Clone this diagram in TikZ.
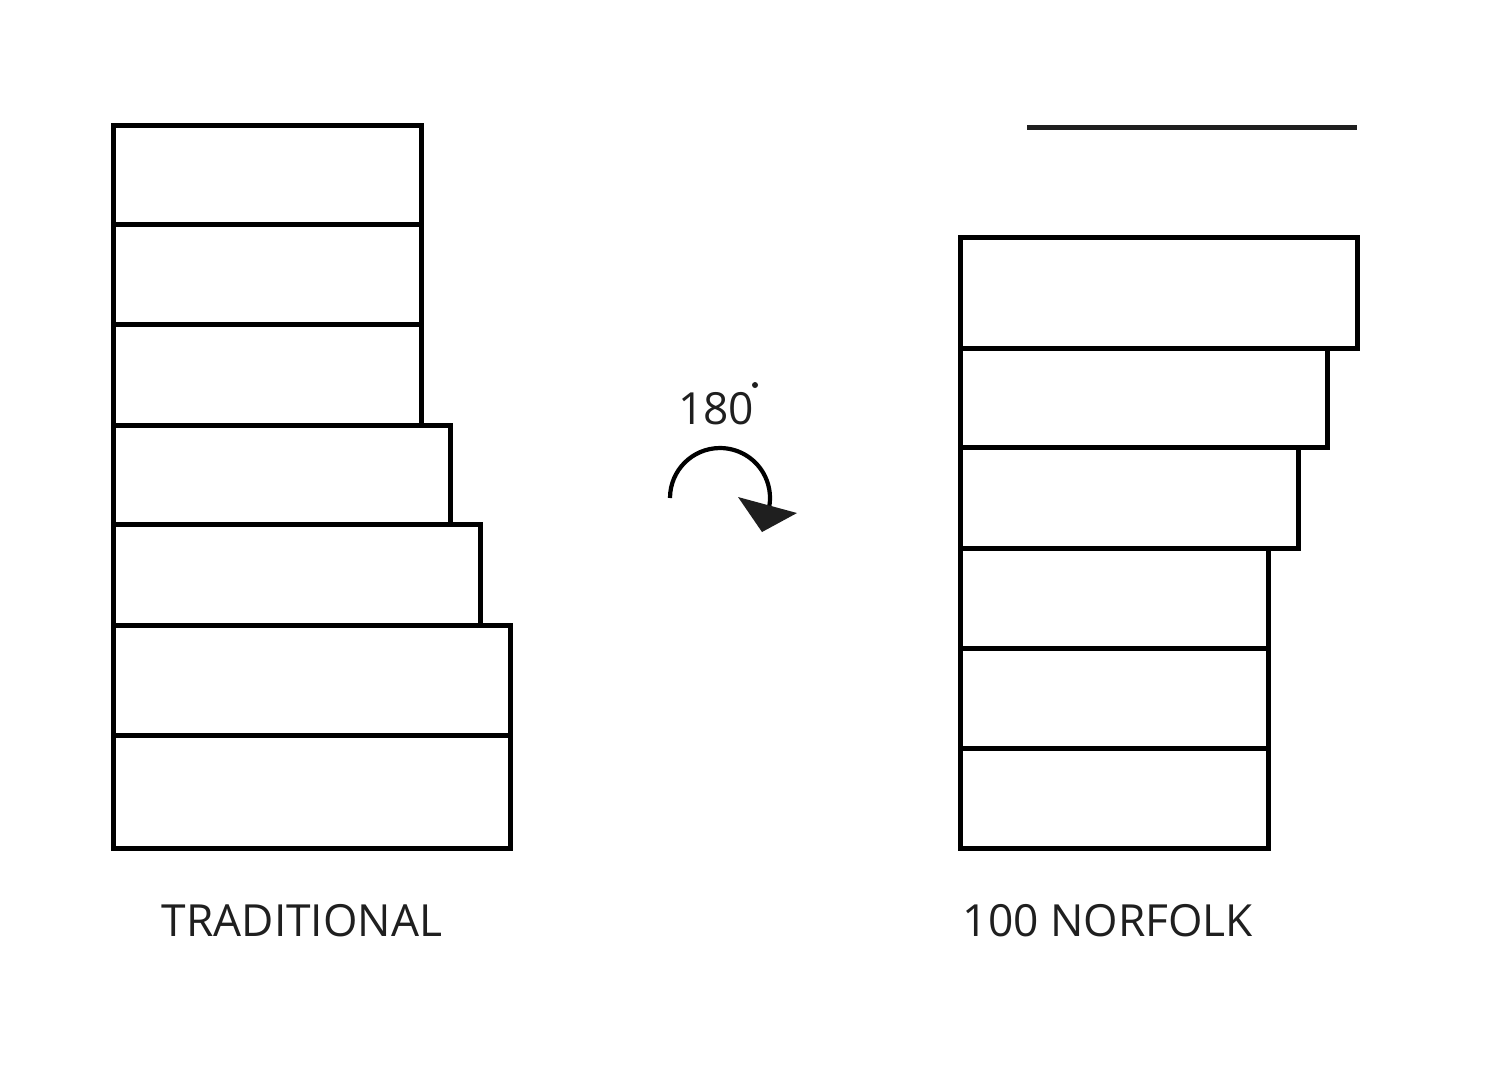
\documentclass[tikz,border=0pt]{standalone}
\usepackage{fontspec}
\setmainfont{Open Sans}
\begin{document}
\begin{tikzpicture}[x=0.1mm, y=-0.1mm, line width=0.5mm,
    floor/.style={draw=black},
    caption/.style={font=\fontsize{12.6}{14}\selectfont, text=black!88}]
    \useasboundingbox (0,0) rectangle (1500,1083);
    % traditional stack: top, bottom, right edge
    \foreach \t/\b/\r in {125/224/421, 224/324/421, 324/425/421, 425/524/450, 524/625/480, 625/735/510, 735/848/510}
        \draw[floor] (113,\t) rectangle (\r,\b);
    % 100 norfolk stack
    \foreach \t/\b/\r in {237/348/1357, 348/447/1327, 447/548/1298, 548/648/1268, 648/748/1268, 748/848/1268}
        \draw[floor] (960,\t) rectangle (\r,\b);
    \draw[black!88] (1027,127) -- (1357,127);
    % rotation sign
    \node[caption] (deg) at (716,409) {180};
    \fill[black!88] (755,385) circle (3);
    \draw[line width=0.42mm] (670,498) arc (180:370:50);
    \fill[black!88] (738,497) -- (797,513) -- (762,532) -- cycle;
    \node[caption] (trad) at (302,921) {TRADITIONAL};
    \node[caption] (norf) at (1108,921) {100 NORFOLK};
\end{tikzpicture}
\end{document}
